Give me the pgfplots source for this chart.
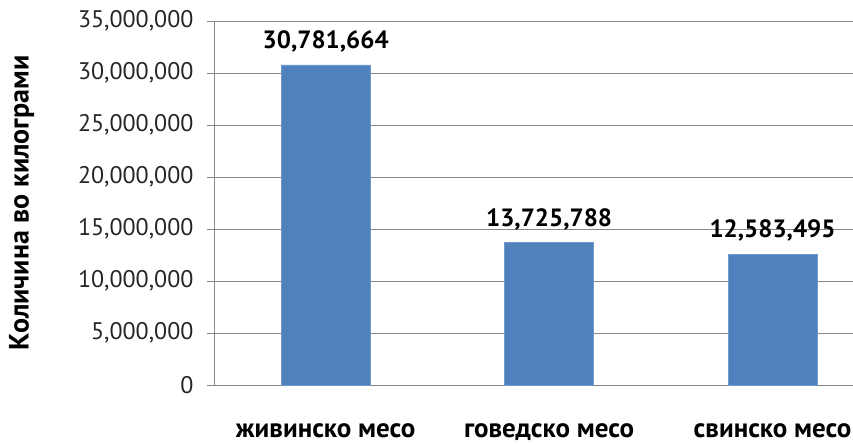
\documentclass[border=0pt]{standalone}
\usepackage{fontspec}
\setmainfont{PT Sans}
\usepackage{pgfplots}
\pgfplotsset{compat=1.18}
\usepackage{pgfplotstable}
\definecolor{barblue}{HTML}{4F81BD}
\definecolor{gridgray}{HTML}{878787}

\pgfplotstableread{
x y label
0 30781664 30,781,664
1 13725788 13,725,788
2 12583495 12,583,495
}\meat

\begin{document}
\begin{tikzpicture}
\path[use as bounding box] (-214pt,-59pt) rectangle (639pt,385pt);
\begin{axis}[
  scale only axis,
  width=639pt, height=364pt,
  xmin=-0.5, xmax=2.36,
  ymin=0, ymax=35000000,
  ytick={0,5000000,...,35000000},
  scaled y ticks=false,
  yticklabel style={xshift=-10pt, /pgf/number format/.cd, fixed, 1000 sep={,}, assume math mode=true},
  tick label style={font=\fontsize{24}{28}\selectfont, text=black!85},
  axis x line*=bottom, axis y line*=left,
  axis line style={gridgray, -},
  ymajorgrids, grid style={gridgray, line width=0.8pt},
  tick style={gridgray, line width=0.8pt},
  tick align=outside,
  major tick length=7pt,
  xtick={0,1,2},
  xticklabels={живинско месо, говедско месо, свинско месо},
  x tick style={draw=none},
  xticklabel style={font=\fontsize{27}{32}\selectfont\bfseries, text=black, yshift=-28pt},
  extra x ticks={-0.5,0.5,1.5},
  extra x tick labels={},
  extra x tick style={major tick length=10pt, tick style={gridgray, line width=0.8pt}},
  ylabel={Количина во килограми},
  ylabel style={font=\fontsize{28}{32}\selectfont\bfseries,
    at={(axis description cs:-0.301,0.5)}, anchor=center},
  ybar, bar width=89pt,
  nodes near coords,
  point meta=explicit symbolic,
  every node near coord/.append style={font=\fontsize{25}{30}\selectfont\bfseries, yshift=9pt},
  clip=false,
]
\addplot[fill=barblue, draw=barblue!80!white] table[x=x, y=y, meta=label] {\meat};
\end{axis}
\end{tikzpicture}
\end{document}
